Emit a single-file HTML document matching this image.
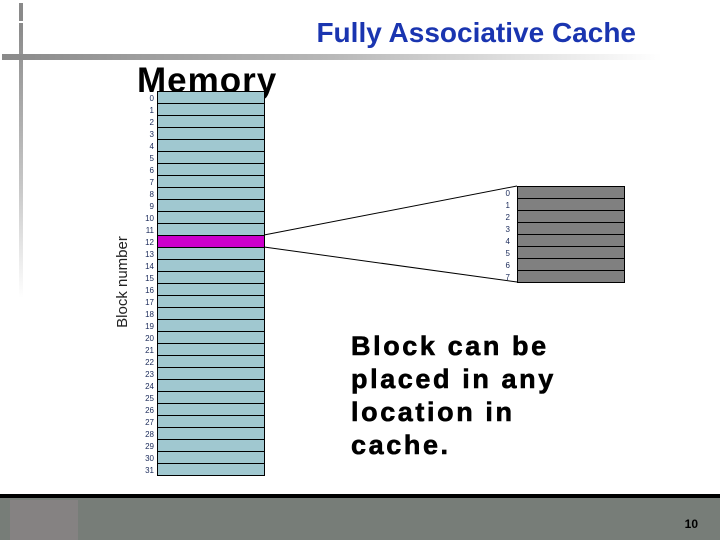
<!DOCTYPE html>
<html><head><meta charset="utf-8"><style>
html,body{margin:0;padding:0;background:#fff;}
svg{display:block;}
</style></head><body>
<svg width="720" height="540" xmlns="http://www.w3.org/2000/svg" font-family="Liberation Sans, sans-serif">
<defs>
<linearGradient id="hb" x1="0" x2="1" y1="0" y2="0">
<stop offset="0" stop-color="#8a8a8a"/><stop offset="0.5" stop-color="#b8b8b8"/><stop offset="1" stop-color="#ffffff"/></linearGradient>
<linearGradient id="vb" x1="0" x2="0" y1="0" y2="1">
<stop offset="0" stop-color="#8a8a8a"/><stop offset="0.6" stop-color="#c8c8c8"/><stop offset="1" stop-color="#ffffff"/></linearGradient>
</defs>
<rect x="19" y="3" width="4" height="18" fill="#8a8a8a"/>
<rect x="19" y="23" width="4" height="275" fill="url(#vb)"/>
<rect x="2" y="54" width="660" height="6" fill="url(#hb)"/>
<text x="636" y="42" text-anchor="end" font-size="28" font-weight="bold" fill="#1a35b0">Fully Associative Cache</text>
<text x="137" y="92" font-size="35" font-weight="bold" fill="#000" letter-spacing="1">Memory</text>
<text transform="translate(127,282) rotate(-90)" text-anchor="middle" font-size="15" fill="#222">Block number</text>
<line x1="264" y1="235" x2="517" y2="186" stroke="#000" stroke-width="1"/>
<line x1="264" y1="247" x2="517" y2="282" stroke="#000" stroke-width="1"/>
<g font-size="27" font-weight="bold" fill="#000" letter-spacing="2.6" stroke="#000" stroke-width="0.6">
<text x="351" y="355">Block can be</text>
<text x="351" y="388">placed in any</text>
<text x="351" y="421">location in</text>
<text x="351" y="454">cache.</text>
</g>
<rect x="0" y="494" width="720" height="4" fill="#000"/>
<rect x="0" y="498" width="720" height="42" fill="#777d78"/>
<rect x="10" y="500" width="68" height="40" fill="#858282"/>
<text x="698" y="528" text-anchor="end" font-size="12" font-weight="bold" fill="#000">10</text>
<g stroke="#000" stroke-width="1">
<rect x="157.5" y="91.5" width="107" height="384" fill="#a0c8d0"/>
<rect x="157.5" y="235.5" width="107" height="12" fill="#cc00cc"/>
<rect x="517.5" y="186.5" width="107" height="96" fill="#808080"/>
</g>
<g stroke="#000" stroke-width="1">
<line x1="157" y1="103.5" x2="265" y2="103.5"/><line x1="157" y1="115.5" x2="265" y2="115.5"/><line x1="157" y1="127.5" x2="265" y2="127.5"/><line x1="157" y1="139.5" x2="265" y2="139.5"/><line x1="157" y1="151.5" x2="265" y2="151.5"/><line x1="157" y1="163.5" x2="265" y2="163.5"/><line x1="157" y1="175.5" x2="265" y2="175.5"/><line x1="157" y1="187.5" x2="265" y2="187.5"/><line x1="157" y1="199.5" x2="265" y2="199.5"/><line x1="157" y1="211.5" x2="265" y2="211.5"/><line x1="157" y1="223.5" x2="265" y2="223.5"/><line x1="157" y1="259.5" x2="265" y2="259.5"/><line x1="157" y1="271.5" x2="265" y2="271.5"/><line x1="157" y1="283.5" x2="265" y2="283.5"/><line x1="157" y1="295.5" x2="265" y2="295.5"/><line x1="157" y1="307.5" x2="265" y2="307.5"/><line x1="157" y1="319.5" x2="265" y2="319.5"/><line x1="157" y1="331.5" x2="265" y2="331.5"/><line x1="157" y1="343.5" x2="265" y2="343.5"/><line x1="157" y1="355.5" x2="265" y2="355.5"/><line x1="157" y1="367.5" x2="265" y2="367.5"/><line x1="157" y1="379.5" x2="265" y2="379.5"/><line x1="157" y1="391.5" x2="265" y2="391.5"/><line x1="157" y1="403.5" x2="265" y2="403.5"/><line x1="157" y1="415.5" x2="265" y2="415.5"/><line x1="157" y1="427.5" x2="265" y2="427.5"/><line x1="157" y1="439.5" x2="265" y2="439.5"/><line x1="157" y1="451.5" x2="265" y2="451.5"/><line x1="157" y1="463.5" x2="265" y2="463.5"/>
<line x1="517" y1="198.5" x2="625" y2="198.5"/><line x1="517" y1="210.5" x2="625" y2="210.5"/><line x1="517" y1="222.5" x2="625" y2="222.5"/><line x1="517" y1="234.5" x2="625" y2="234.5"/><line x1="517" y1="246.5" x2="625" y2="246.5"/><line x1="517" y1="258.5" x2="625" y2="258.5"/><line x1="517" y1="270.5" x2="625" y2="270.5"/>
</g>
<g font-size="8" fill="#1a2a5a" text-anchor="end">
<text x="154" y="101">0</text><text x="154" y="113">1</text><text x="154" y="125">2</text><text x="154" y="137">3</text><text x="154" y="149">4</text><text x="154" y="161">5</text><text x="154" y="173">6</text><text x="154" y="185">7</text><text x="154" y="197">8</text><text x="154" y="209">9</text><text x="154" y="221">10</text><text x="154" y="233">11</text><text x="154" y="245">12</text><text x="154" y="257">13</text><text x="154" y="269">14</text><text x="154" y="281">15</text><text x="154" y="293">16</text><text x="154" y="305">17</text><text x="154" y="317">18</text><text x="154" y="329">19</text><text x="154" y="341">20</text><text x="154" y="353">21</text><text x="154" y="365">22</text><text x="154" y="377">23</text><text x="154" y="389">24</text><text x="154" y="401">25</text><text x="154" y="413">26</text><text x="154" y="425">27</text><text x="154" y="437">28</text><text x="154" y="449">29</text><text x="154" y="461">30</text><text x="154" y="473">31</text>
<text x="510" y="196">0</text><text x="510" y="208">1</text><text x="510" y="220">2</text><text x="510" y="232">3</text><text x="510" y="244">4</text><text x="510" y="256">5</text><text x="510" y="268">6</text><text x="510" y="280">7</text>
</g>
</svg>
</body></html>
